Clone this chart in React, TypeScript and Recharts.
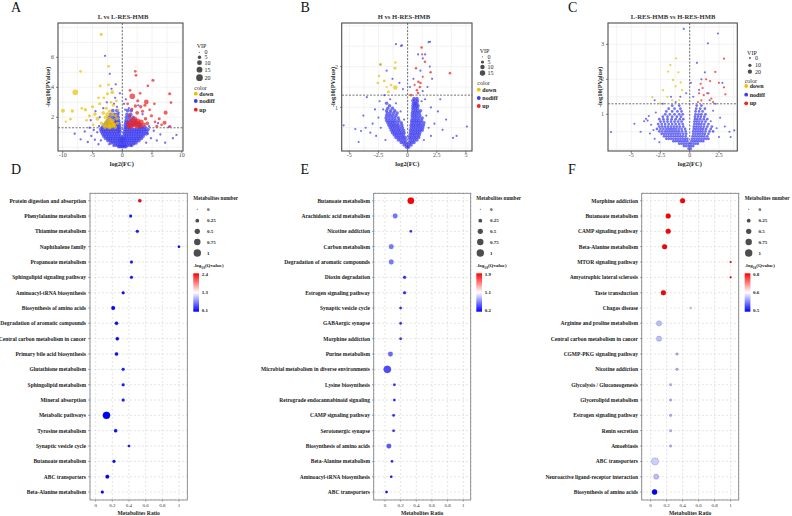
import React from 'react';
import { ScatterChart, Scatter, XAxis, YAxis, ZAxis, CartesianGrid, ReferenceLine } from 'recharts';

const FONT = '"Liberation Serif", "Times New Roman", serif';
const BLUE = '#3c3cf0';
const GOLD = '#efc000';
const RED = '#ee2222';
// VIP assumed for unlabelled nodiff metabolites: dense core vs. scattered tail
const CORE_VIP = 6;
const TAIL_VIP = 2;

// ---------- volcano A: L vs L-RES-HMB ----------
// dense nodiff core, one row per -log10(p) level
const coreA: [number, number[]][] = [
  [0.05, [-0.6, -0.3, 0, 0.3, 0.6]],
  [0.15, [-1.2, -0.8, -0.4, 0, 0.4, 0.8, 1.2, 1.6]],
  [0.3, [-1.9, -1.5, -1.1, -0.7, -0.35, 0, 0.35, 0.7, 1.1, 1.5, 1.9, 2.3]],
  [0.45, [-2.4, -2.0, -1.6, -1.2, -0.8, -0.45, -0.15, 0.15, 0.45, 0.8, 1.2, 1.6, 2.0, 2.4, 2.8]],
  [0.6, [-2.8, -2.4, -2.0, -1.6, -1.2, -0.8, -0.4, -0.15, 0.15, 0.4, 0.8, 1.2, 1.6, 2.0, 2.4, 2.8, 3.2]],
  [0.75, [-3.1, -2.7, -2.3, -1.9, -1.5, -1.1, -0.7, -0.3, 0.3, 0.7, 1.1, 1.5, 1.9, 2.3, 2.7, 3.1, 3.5]],
  [0.9, [-3.3, -2.9, -2.5, -2.1, -1.7, -1.3, -0.9, -0.5, 0.35, 0.75, 1.15, 1.55, 1.95, 2.35, 2.75, 3.15, 3.6, 4.0]],
  [1.05, [-3.5, -3.1, -2.7, -2.3, -1.9, -1.5, -1.1, -0.7, -0.4, 0.4, 0.8, 1.2, 1.6, 2.0, 2.4, 2.8, 3.2, 3.6, 4.1]],
  [1.2, [-3.6, -3.2, -2.8, -2.4, -2.0, -1.6, -1.2, -0.8, -0.45, 0.45, 0.85, 1.25, 1.65, 2.05, 2.45, 2.85, 3.25, 3.7, 4.3]],
  [1.35, [-3.3, -2.9, -2.5, -2.1, -1.7, -1.3, -0.9, -0.5, 0.5, 0.9, 1.3, 2.9, 3.3, 3.8]],
  [1.5, [-3.0, -2.5, -2.0, -1.6, -1.2, -0.8, -0.5, 0.5, 0.9, 1.3, 1.8, 2.4, 3.0]],
  [1.65, [-2.7, -2.2, -1.8, -1.4, -1.0, -0.6, 0.6, 1.0, 1.5, 2.1, 2.7]],
  [1.8, [-2.4, -1.9, -1.4, -1.0, -0.65, 0.65, 1.1, 1.6, 2.2]],
  [2.0, [-2.2, -1.6, -1.1, -0.7, 0.7, 1.2, 1.8]],
  [2.2, [-1.9, -1.3, -0.8, 0.8, 1.4]],
  [2.45, [-1.6, -0.9, 0.9, 1.5]],
];
const sparseA: [number, number][] = [
  [-7.0, 0.53], [-5.8, 0.35], [-5.2, 0.75], [-4.6, 0.5], [-4.2, 1.0], [-4.0, 0.2], [-3.9, 1.4], [-4.8, 1.15],
  [-6.3, 1.05], [-5.5, 1.3], [-3.6, 0.45], [4.0, 0.3], [4.3, 0.9], [4.8, 0.6], [5.3, 1.1], [5.8, 0.45],
  [6.4, 0.85], [7.2, 0.3], [9.1, 0.82], [4.5, 1.4], [3.9, 1.15], [-2.9, 6.1], [-2.1, 4.9], [-1.8, 3.9],
  [-1.2, 3.3], [-0.9, 2.7], [-2.6, 3.0], [-3.2, 2.6], [-1.4, 2.9], [0.6, 3.2], [1.1, 2.6], [0.3, 2.9],
  [-0.4, 3.6], [-1.1, 4.2], [-4.5, 2.4], [-3.8, 2.0], [2.7, 2.8], [3.4, 2.2], [-0.6, 2.3], [0.5, 2.5],
  [-5.3, 1.8], [6.0, 1.6], [7.8, 1.35], [-8.0, 0.9], [8.5, 0.6], [2.0, 0.2], [-2.2, 0.2], [1.5, 0.1], [-1.5, 0.1],
];
const downA: [number, number, number][] = [
  [-3.53, 7.53, 4], [-7.0, 5.07, 3], [-7.9, 3.67, 14], [-9.97, 2.44, 7], [-8.4, 2.42, 5], [-8.7, 1.87, 3],
  [-9.5, 1.7, 2], [-2.3, 5.4, 3], [-2.3, 4.17, 3], [-1.68, 3.67, 6], [-2.5, 3.57, 4], [-3.7, 4.09, 3],
  [-6.2, 2.5, 5], [-5.5, 2.1, 4], [-6.8, 2.6, 3], [-6.0, 1.8, 3], [-5.0, 2.7, 4], [-4.6, 2.2, 5],
  [-4.2, 1.9, 6], [-3.8, 2.9, 4], [-3.5, 1.6, 5], [-3.2, 2.3, 6], [-3.0, 1.5, 8], [-2.8, 2.0, 6],
  [-2.6, 1.7, 9], [-2.4, 1.45, 10], [-2.2, 1.9, 8], [-2.0, 1.6, 11], [-1.8, 1.4, 9], [-1.6, 1.75, 7],
  [-1.4, 1.5, 8], [-1.2, 1.35, 6], [-2.1, 2.4, 5], [-1.5, 2.8, 4], [-1.1, 2.1, 5], [-0.8, 1.6, 4],
  [-0.7, 2.5, 3], [-4.9, 1.5, 3], [-4.0, 3.3, 3], [-3.1, 3.3, 3], [-2.7, 2.6, 4], [-1.9, 3.0, 3],
  [-1.0, 3.1, 3], [-0.9, 1.9, 5], [-2.9, 1.35, 7], [-2.5, 2.2, 7], [-1.7, 2.2, 6], [-2.15, 1.35, 10],
  [-1.5, 1.5, 9], [-1.9, 1.75, 10],
];
const upA: [number, number, number][] = [
  [2.18, 5.07, 3], [2.3, 4.8, 3], [5.15, 4.47, 4], [4.3, 4.1, 3], [7.96, 3.57, 4], [1.68, 3.4, 14],
  [4.03, 3.02, 10], [2.6, 3.1, 4], [3.1, 2.7, 5], [3.8, 2.8, 4], [2.2, 2.75, 5], [1.6, 2.55, 4],
  [2.5, 2.3, 6], [3.4, 2.4, 4], [4.6, 2.5, 3], [5.4, 2.9, 3], [7.28, 2.31, 7], [7.1, 1.64, 7],
  [8.18, 2.98, 3], [6.2, 1.9, 4], [5.5, 1.7, 3], [4.9, 2.1, 4], [1.2, 2.1, 5], [1.0, 1.6, 8],
  [1.4, 1.45, 14], [1.9, 1.55, 15], [2.4, 1.5, 16], [2.9, 1.45, 15], [2.6, 1.75, 12], [3.2, 1.7, 10],
  [2.1, 1.9, 9], [1.6, 1.8, 10], [3.6, 1.5, 8], [4.2, 1.6, 6], [3.9, 1.9, 5], [1.1, 1.35, 7],
  [5.8, 1.4, 4], [6.6, 1.5, 3], [8.0, 1.4, 3], [0.9, 2.9, 3], [1.3, 3.8, 3], [3.0, 3.6, 3],
];

// ---------- volcano B: H vs H-RES-HMB ----------
const coreB: [number, number[]][] = [
  [0.02, [-0.08, 0.08]],
  [0.08, [-0.3, -0.1, 0.1, 0.3]],
  [0.14, [-0.55, -0.35, -0.15, 0.15, 0.35, 0.55]],
  [0.2, [-0.8, -0.6, -0.4, -0.2, 0.2, 0.4, 0.6, 0.8]],
  [0.26, [-1.0, -0.8, -0.6, -0.4, -0.2, 0.15, 0.35, 0.55, 0.75, 0.95]],
  [0.32, [-1.15, -0.95, -0.75, -0.55, -0.35, 0.2, 0.4, 0.6, 0.8, 1.0]],
  [0.38, [-1.3, -1.1, -0.9, -0.7, -0.5, -0.3, 0.25, 0.45, 0.65, 0.85, 1.05]],
  [0.44, [-1.4, -1.2, -1.0, -0.8, -0.6, -0.35, 0.25, 0.45, 0.65, 0.85, 1.05, 1.25]],
  [0.5, [-1.5, -1.3, -1.1, -0.9, -0.7, -0.45, 0.3, 0.5, 0.7, 0.9, 1.1, 1.3]],
  [0.56, [-1.6, -1.4, -1.2, -1.0, -0.8, -0.5, 0.3, 0.5, 0.7, 0.9, 1.1, 1.35]],
  [0.62, [-1.7, -1.5, -1.3, -1.1, -0.85, -0.55, 0.35, 0.55, 0.75, 0.95, 1.15, 1.4]],
  [0.68, [-1.8, -1.55, -1.3, -1.05, -0.75, 0.35, 0.55, 0.75, 0.95, 1.2]],
  [0.74, [-1.85, -1.6, -1.35, -1.1, -0.8, 0.4, 0.6, 0.8, 1.0, 1.25]],
  [0.8, [-1.8, -1.55, -1.3, -1.0, 0.4, 0.6, 0.8, 1.05]],
  [0.86, [-1.75, -1.5, -1.2, -0.9, 0.4, 0.6, 0.8, 1.0]],
  [0.92, [-1.8, -1.45, -1.1, 0.45, 0.65, 0.85, 1.1]],
  [0.98, [-1.7, -1.3, 0.45, 0.65, 0.85]],
  [1.04, [-1.55, 0.45, 0.6, 0.75, 0.9]],
  [1.1, [-1.8, 0.5, 0.65, 0.8]],
  [1.16, [0.45, 0.65, 0.85]],
  [1.22, [0.55, 0.8]],
];
const sparseB: [number, number][] = [
  [-5.49, 0.56], [-4.49, 0.47], [-4.0, 0.42], [-3.6, 0.5], [-3.2, 0.38], [-3.0, 0.6], [-2.7, 0.3], [-2.5, 0.75],
  [-2.3, 0.5], [-2.1, 0.95], [-2.4, 1.15], [-2.8, 0.95], [-3.5, 1.25], [-2.0, 1.3], [-1.5, 1.2], [-1.0, 1.1],
  [-0.6, 0.9], [-0.3, 0.7], [1.6, 0.8], [1.8, 0.5], [2.0, 1.0], [2.3, 0.6], [2.6, 0.9], [3.0, 0.45],
  [2.8, 1.2], [3.3, 0.7], [5.09, 0.53], [4.2, 0.3], [1.5, 1.2], [1.3, 1.4], [1.7, 1.5], [2.1, 1.7],
  [1.9, 2.0], [1.5, 2.3], [1.92, 2.61], [1.8, 2.6], [-0.48, 2.52], [-1.0, 2.55], [-0.57, 2.51], [-2.34, 2.05],
  [-1.8, 1.9], [-1.3, 1.7], [-0.7, 1.6], [-0.4, 1.45], [0.2, 1.5], [0.5, 1.7], [1.1, 1.9], [1.3, 2.2],
  [0.9, 2.3], [1.2, 1.15], [-4.2, 0.15], [-1.9, 0.2], [1.4, 0.2], [2.0, 0.3], [-3.8, 0.8], [3.9, 0.25],
];
const downB: [number, number, number][] = [
  [-2.3, 2.06, 3], [-2.0, 1.65, 4], [-2.45, 1.77, 3], [-1.08, 1.96, 4], [-1.05, 1.49, 10], [-1.65, 1.38, 4],
  [-1.42, 1.55, 3], [-1.05, 2.1, 3], [-2.55, 1.6, 3], [-1.8, 1.5, 2],
];
const upB: [number, number, number][] = [
  [1.2, 2.47, 3], [1.49, 2.12, 3], [1.97, 1.86, 3], [3.63, 1.84, 3], [0.72, 1.96, 3], [0.92, 1.63, 3],
  [1.1, 1.6, 3], [0.8, 1.42, 3], [1.05, 1.5, 3], [0.29, 1.3, 3], [0.9, 1.35, 3], [1.3, 1.75, 2],
  [0.6, 1.55, 2], [1.25, 2.3, 2],
];

// ---------- volcano C: L-RES-HMB vs H-RES-HMB ----------
const coreC: [number, number[]][] = [
  [0.02, [-0.1, 0.1]],
  [0.09, [-0.5, -0.3, -0.1, 0.1, 0.3]],
  [0.16, [-0.9, -0.7, -0.5, -0.3, -0.1, 0.1, 0.3, 0.5, 0.7]],
  [0.23, [-1.4, -1.2, -1.0, -0.8, -0.6, -0.4, -0.2, 0.15, 0.35, 0.55, 0.75, 0.95, 1.15]],
  [0.3, [-2.0, -1.8, -1.6, -1.4, -1.2, -1.0, -0.8, -0.6, -0.4, -0.2, 0.2, 0.4, 0.6, 0.8, 1.0, 1.2, 1.4, 1.6]],
  [0.37, [-2.2, -2.0, -1.8, -1.6, -1.4, -1.2, -1.0, -0.8, -0.6, -0.35, 0.25, 0.45, 0.65, 0.85, 1.05, 1.25, 1.5]],
  [0.44, [-2.4, -2.2, -2.0, -1.8, -1.6, -1.4, -1.2, -1.0, -0.8, -0.55, -0.3, 0.3, 0.5, 0.7, 0.9, 1.1, 1.3, 1.6]],
  [0.51, [-2.6, -2.35, -2.1, -1.9, -1.7, -1.5, -1.3, -1.1, -0.9, -0.65, -0.35, 0.3, 0.5, 0.7, 0.9, 1.1, 1.35, 1.7, 2.0]],
  [0.58, [-2.8, -2.5, -2.25, -2.0, -1.8, -1.6, -1.4, -1.2, -0.95, -0.7, -0.4, 0.35, 0.55, 0.75, 0.95, 1.15, 1.4, 1.8]],
  [0.65, [-2.6, -2.35, -2.1, -1.85, -1.6, -1.35, -1.1, -0.85, -0.55, 0.35, 0.55, 0.75, 0.95, 1.2, 1.5, 1.9]],
  [0.72, [-2.7, -2.4, -2.1, -1.8, -1.5, -1.2, -0.9, -0.6, 0.4, 0.6, 0.8, 1.0, 1.25, 1.6]],
  [0.79, [-2.5, -2.2, -1.9, -1.6, -1.3, -1.0, -0.7, 0.4, 0.6, 0.8, 1.05, 1.35]],
  [0.86, [-2.6, -2.25, -1.9, -1.55, -1.2, -0.85, -0.55, 0.45, 0.65, 0.9, 1.2, 1.5]],
  [0.93, [-2.3, -1.9, -1.5, -1.1, -0.75, 0.45, 0.7, 0.95, 1.25]],
  [1.0, [-2.1, -1.7, -1.3, -0.9, -0.6, 0.5, 0.75, 1.0, 1.35]],
  [1.08, [-2.0, -1.5, -1.05, -0.7, 0.5, 0.8, 1.1]],
  [1.16, [-1.8, -1.3, -0.8, 0.55, 0.9, 1.3]],
  [1.25, [-1.5, -0.9, 0.6, 1.0]],
];
const sparseC: [number, number][] = [
  [-3.74, 0.87], [-3.6, 0.82], [-3.9, 0.8], [-3.5, 0.95], [-3.3, 0.7], [-3.1, 0.55], [-3.4, 0.45], [-4.73, 0.73],
  [-6.73, 0.49], [-4.2, 0.5], [-2.9, 1.05], [-3.0, 0.3], [-2.6, 0.2], [3.81, 0.54], [3.4, 0.5], [3.0, 0.65],
  [2.6, 0.9], [2.3, 0.6], [2.5, 0.35], [2.0, 1.1], [1.8, 0.8], [2.2, 1.3], [1.7, 1.4], [1.5, 1.6],
  [2.42, 3.31], [-0.51, 3.44], [1.56, 3.03], [0.62, 2.47], [1.3, 2.2], [-0.3, 1.6], [-0.8, 1.5], [-1.2, 1.35],
  [-2.3, 1.3], [0.3, 1.5], [0.8, 1.7], [1.0, 2.0], [2.8, 1.9], [-1.6, 1.5], [-3.0, 1.4], [0.1, 1.9], [3.5, 0.35],
];
const downC: [number, number, number][] = [
  [-1.17, 2.6, 3], [-1.66, 2.41, 3], [-1.85, 2.22, 3], [-0.97, 2.2, 3], [-1.43, 1.98, 3], [-0.77, 1.91, 3],
  [-2.28, 1.69, 3], [-1.91, 1.5, 3], [-3.2, 1.49, 3], [-0.66, 1.69, 3], [-1.2, 1.8, 3], [-2.56, 1.31, 3],
  [-1.5, 1.4, 3], [-0.9, 1.4, 2],
];
const upC: [number, number, number][] = [
  [2.93, 2.59, 3], [2.19, 2.21, 3], [1.74, 1.95, 3], [0.94, 1.87, 3], [1.1, 1.75, 3], [0.8, 1.6, 3],
  [1.2, 1.55, 3], [1.6, 1.6, 3], [1.85, 1.45, 3], [2.0, 1.35, 3], [1.0, 1.4, 3], [0.7, 1.35, 3],
  [2.93, 1.77, 3], [3.05, 1.57, 3], [1.4, 2.0, 2], [2.5, 1.9, 2],
];

// ---------- KEGG bubble D ----------
const pathwaysD = [
  'Protein digestion and absorption', 'Phenylalanine metabolism', 'Thiamine metabolism', 'Naphthalene family',
  'Propanoate metabolism', 'Sphingolipid signaling pathway', 'Aminoacyl-tRNA biosynthesis', 'Biosynthesis of amino acids',
  'Degradation of aromatic compounds', 'Central carbon metabolism in cancer', 'Primary bile acid biosynthesis',
  'Glutathione metabolism', 'Sphingolipid metabolism', 'Mineral absorption', 'Metabolic pathways', 'Tyrosine metabolism',
  'Synaptic vesicle cycle', 'Butanoate metabolism', 'ABC transporters', 'Beta-Alanine metabolism',
];
const ratioD = [0.53, 0.42, 0.5, 1.0, 0.43, 0.43, 0.33, 0.21, 0.25, 0.26, 0.25, 0.33, 0.33, 0.33, 0.13, 0.24, 0.4, 0.22, 0.14, 0.08];
const numberD = [0.2, 0.15, 0.15, 0.1, 0.15, 0.15, 0.15, 0.25, 0.2, 0.2, 0.2, 0.15, 0.15, 0.15, 1, 0.2, 0.1, 0.15, 0.25, 0.15];
const qvalD = [2.4, 0.2, 0.2, 0.1, 0.2, 0.2, 0.15, 0.1, 0.15, 0.15, 0.15, 0.2, 0.2, 0.2, 0.1, 0.15, 0.2, 0.15, 0.1, 0.1];

// ---------- KEGG bubble E ----------
const pathwaysE = [
  'Butanoate metabolism', 'Arachidonic acid metabolism', 'Nicotine addiction', 'Carbon metabolism',
  'Degradation of aromatic compounds', 'Dioxin degradation', 'Estrogen signaling pathway', 'Synaptic vesicle cycle',
  'GABAergic synapse', 'Morphine addiction', 'Purine metabolism', 'Microbial metabolism in diverse environments',
  'Lysine biosynthesis', 'Retrograde endocannabinoid signaling', 'CAMP signaling pathway', 'Serotonergic synapse',
  'Biosynthesis of amino acids', 'Beta-Alanine metabolism', 'Aminoacyl-tRNA biosynthesis', 'ABC transporters',
];
const ratioE = [0.33, 0.13, 0.33, 0.08, 0.08, 0.25, 0.25, 0.2, 0.2, 0.2, 0.07, 0.03, 0.12, 0.12, 0.11, 0.11, 0.05, 0.09, 0.08, 0.02];
const numberE = [0.75, 0.4, 0.1, 0.4, 0.4, 0.15, 0.15, 0.1, 0.1, 0.1, 0.4, 1, 0.1, 0.1, 0.1, 0.1, 0.4, 0.1, 0.1, 0.1];
const qvalE = [1.9, 0.6, 0.35, 0.6, 0.6, 0.35, 0.35, 0.35, 0.35, 0.35, 0.55, 0.45, 0.35, 0.35, 0.35, 0.35, 0.5, 0.35, 0.3, 0.25];

// ---------- KEGG bubble F ----------
const pathwaysF = [
  'Morphine addiction', 'Butanoate metabolism', 'CAMP signaling pathway', 'Beta-Alanine metabolism',
  'MTOR signaling pathway', 'Amyotrophic lateral sclerosis', 'Taste transduction', 'Chagas disease',
  'Arginine and proline metabolism', 'Central carbon metabolism in cancer', 'CGMP-PKG signaling pathway',
  'Nicotine addiction', 'Glycolysis / Gluconeogenesis', 'Glycerolipid metabolism', 'Estrogen signaling pathway',
  'Renin secretion', 'Amoebiasis', 'ABC transporters', 'Neuroactive ligand-receptor interaction', 'Biosynthesis of amino acids',
];
const ratioF = [0.4, 0.22, 0.22, 0.175, 1.0, 1.0, 0.16, 0.5, 0.105, 0.105, 0.33, 0.33, 0.25, 0.25, 0.25, 0.25, 0.25, 0.055, 0.07, 0.05];
const numberF = [0.45, 0.45, 0.45, 0.45, 0.05, 0.05, 0.45, 0.05, 0.5, 0.5, 0.1, 0.1, 0.1, 0.1, 0.1, 0.1, 0.1, 1, 0.5, 0.5];
const qvalF = [0.8, 0.8, 0.8, 0.8, 0.8, 0.8, 0.8, 0.62, 0.61, 0.61, 0.6, 0.6, 0.6, 0.6, 0.6, 0.6, 0.6, 0.62, 0.61, 0.5];

// legend keys
const vipKeysA = [0, 5, 10, 15, 20];
const vipKeysB = [0, 5, 10, 15];
const vipKeysC = [0, 10, 20];
const groupKeys = ['down', 'nodiff', 'up'];
const groupColors = [GOLD, BLUE, RED];
const numberKeys = [0, 0.25, 0.5, 0.75, 1];
// colour bar labels, top to bottom
const qLabelsD = [2.4, 1.3, 0.1];
const qLabelsE = [1.9, 1.1, 0.2];
const qLabelsF = [0.8, 0.6, 0.5];

// ---------- helpers ----------
type Pt = { x: number; y: number; vip: number };
const toPts = (rows: [number, number, number][]): Pt[] => rows.map(([x, y, vip]) => ({ x, y, vip }));
const nodiffPts = (core: [number, number[]][], sparse: [number, number][]): Pt[] => [
  ...core.flatMap(([y, xs]) => xs.map((x) => ({ x, y, vip: CORE_VIP }))),
  ...sparse.map(([x, y]) => ({ x, y, vip: TAIL_VIP })),
];
const bubbleRows = (names: string[], ratio: number[], num: number[], q: number[]) =>
  names.map((name, i) => ({ i, name, ratio: ratio[i], n: num[i], q: q[i] }));

function qColor(v: number, lo: number, hi: number) {
  const mid = (lo + hi) / 2;
  const mix = (a: number[], b: number[], t: number) => a.map((c, k) => Math.round(c + (b[k] - c) * t));
  const c =
    v <= mid
      ? mix([0, 0, 255], [255, 255, 255], Math.max(0, (v - lo) / (mid - lo)))
      : mix([255, 255, 255], [255, 0, 0], Math.min(1, (v - mid) / (hi - mid)));
  return `rgb(${c.join(',')})`;
}

const fmtNum = (v: number) => String(Math.round(v * 100) / 100);

const volcanoDot = (p: any) => {
  const r = Math.sqrt((p.size ?? 4) / Math.PI);
  return <circle cx={p.cx} cy={p.cy} r={r} fill={p.fill} fillOpacity={0.72} />;
};

type Box = { x: number; y: number; w: number; h: number };

interface VolcanoProps {
  box: Box;
  xDomain: [number, number];
  yDomain: [number, number];
  xTicks: number[];
  yTicks: number[];
  xGrid: number[];
  yGrid: number[];
  nodiff: Pt[];
  down: Pt[];
  up: Pt[];
  vipMax: number;
  vipRange: [number, number];
}

function Volcano({ box, xDomain, yDomain, xTicks, yTicks, xGrid, yGrid, nodiff, down, up, vipMax, vipRange }: VolcanoProps) {
  const yW = 16;
  const xH = 12;
  const tick = { fontSize: 6, fill: '#4d4d4d', fontFamily: FONT };
  return (
    <div style={{ position: 'absolute', left: box.x - yW, top: box.y - 5 }}>
      <ScatterChart width={yW + box.w + 5} height={5 + box.h + xH} margin={{ top: 5, right: 5, left: 0, bottom: 0 }}>
        <CartesianGrid stroke="#ebebeb" strokeWidth={0.6} verticalValues={xGrid} horizontalValues={yGrid} />
        <XAxis type="number" dataKey="x" domain={xDomain} ticks={xTicks} allowDataOverflow interval={0}
          axisLine={false} tickSize={2} tickMargin={0} tickLine={{ stroke: '#333', strokeWidth: 0.6 }}
          tick={tick} height={xH} tickFormatter={fmtNum} />
        <YAxis type="number" dataKey="y" domain={yDomain} ticks={yTicks} allowDataOverflow interval={0}
          axisLine={false} tickSize={2} tickLine={{ stroke: '#333', strokeWidth: 0.6 }}
          tick={tick} width={yW} tickFormatter={fmtNum} />
        <ZAxis type="number" dataKey="vip" domain={[0, vipMax]} range={vipRange} />
        <Scatter data={nodiff} fill={BLUE} shape={volcanoDot} isAnimationActive={false} />
        <Scatter data={down} fill={GOLD} shape={volcanoDot} isAnimationActive={false} />
        <Scatter data={up} fill={RED} shape={volcanoDot} isAnimationActive={false} />
        <ReferenceLine x={0} stroke="#333" strokeDasharray="2 1.5" strokeWidth={0.7} />
        <ReferenceLine y={1.3} stroke="#333" strokeDasharray="2 1.5" strokeWidth={0.7} />
      </ScatterChart>
    </div>
  );
}

interface BubbleProps {
  box: Box;
  xDomain: [number, number];
  rows: { i: number; name: string; ratio: number; n: number; q: number }[];
  qScale: number[];
}

const RATIO_TICKS = [0, 0.2, 0.4, 0.6, 0.8, 1];
const NUMBER_RANGE: [number, number] = [1, 43];

function Bubble({ box, xDomain, rows, qScale }: BubbleProps) {
  const yW = 140;
  const xH = 14;
  const names = rows.map((r) => r.name);
  const lo = qScale[qScale.length - 1];
  const hi = qScale[0];
  const dot = (p: any) => {
    const r = Math.sqrt((p.size ?? 4) / Math.PI);
    return (
      <circle cx={p.cx} cy={p.cy} r={r} fill={qColor(p.payload.q, lo, hi)}
        stroke="rgba(70,70,90,0.55)" strokeWidth={0.35} />
    );
  };
  // single-line pathway names
  const catTick = (p: any) => (
    <text x={p.x} y={p.y} textAnchor="end" dominantBaseline="central" fontFamily={FONT} fontSize={5.5}
      fontWeight={700} fill="#1a1a1a">
      {names[p.payload.value] ?? ''}
    </text>
  );
  return (
    <div style={{ position: 'absolute', left: box.x - yW, top: box.y - 5 }}>
      <ScatterChart width={yW + box.w + 5} height={5 + box.h + xH} margin={{ top: 5, right: 5, left: 0, bottom: 0 }}>
        <CartesianGrid stroke="#d4d4d4" strokeWidth={0.6} strokeDasharray="2 2" />
        <XAxis type="number" dataKey="ratio" domain={xDomain} ticks={RATIO_TICKS} allowDataOverflow interval={0}
          axisLine={false} tickSize={2} tickLine={{ stroke: '#555', strokeWidth: 0.5 }}
          tick={{ fontSize: 5, fill: '#333', fontFamily: FONT }} height={xH}
          tickFormatter={(v: number) => String(Math.round(v * 10) / 10)} />
        <YAxis type="number" dataKey="i" domain={[-0.5, 19.5]} reversed allowDataOverflow interval={0}
          ticks={rows.map((r) => r.i)} axisLine={false} tickSize={2} tickLine={{ stroke: '#555', strokeWidth: 0.5 }}
          tick={catTick} width={yW} />
        <ZAxis type="number" dataKey="n" domain={[0, 1]} range={NUMBER_RANGE} />
        <Scatter data={rows} shape={dot} isAnimationActive={false} />
      </ScatterChart>
    </div>
  );
}

const areaToR = (area: number) => Math.sqrt(area / Math.PI);

function VolcanoLegend({ x, vipKeys, vipMax, vipRange, vipTitleY, vipRowsY, colorTitleY, colorRowsY }: {
  x: number; vipKeys: number[]; vipMax: number; vipRange: [number, number];
  vipTitleY: number; vipRowsY: number[]; colorTitleY: number; colorRowsY: number[];
}) {
  const t = { fontFamily: FONT, fontSize: 6, fill: '#222', dominantBaseline: 'central' as const };
  return (
    <g>
      <text x={x + 2.4} y={vipTitleY} {...t}>VIP</text>
      {vipKeys.map((v, k) => (
        <g key={v}>
          <circle cx={x + 5.2} cy={vipRowsY[k]} r={areaToR(vipRange[0] + ((vipRange[1] - vipRange[0]) * v) / vipMax)} fill="#4d4d4d" />
          <text x={x + 10.2} y={vipRowsY[k]} {...t}>{v}</text>
        </g>
      ))}
      <text x={x} y={colorTitleY} {...t}>color</text>
      {groupKeys.map((g, k) => (
        <g key={g}>
          <circle cx={x + 1.5} cy={colorRowsY[k]} r={1.9} fill={groupColors[k]} />
          <text x={x + 5} y={colorRowsY[k]} {...t} fontWeight={700}>{g}</text>
        </g>
      ))}
    </g>
  );
}

function BubbleLegend({ x, labels, id }: { x: number; labels: number[]; id: string }) {
  const t = { fontFamily: FONT, fontSize: 5, fill: '#222', dominantBaseline: 'central' as const, fontWeight: 700 };
  const rowsY = [209.3, 220.7, 231.3, 242, 253];
  const labelY = [274.5, 292.3, 310.5];
  return (
    <g>
      <defs>
        <linearGradient id={id} x1="0" y1="0" x2="0" y2="1">
          <stop offset="0" stopColor="#ff0000" />
          <stop offset="0.5" stopColor="#ffffff" />
          <stop offset="1" stopColor="#0000ff" />
        </linearGradient>
      </defs>
      <text x={x} y={198.3} {...t} fontSize={5.2}>Metabolites number</text>
      {numberKeys.map((v, k) => (
        <g key={v}>
          <circle cx={x + 4} cy={rowsY[k]} r={areaToR(NUMBER_RANGE[0] + (NUMBER_RANGE[1] - NUMBER_RANGE[0]) * v)} fill="#4d4d4d" />
          <text x={x + 13.8} y={rowsY[k]} {...t}>{v}</text>
        </g>
      ))}
      <text x={x} y={265.7} fontFamily={FONT} fontSize={5} fill="#222" fontWeight={700}>
        <tspan dy={1.7}>-log</tspan>
        <tspan fontSize={3.6} dy={1.3}>10</tspan>
        <tspan dy={-1.3}>(Qvalue)</tspan>
      </text>
      <rect x={x} y={273.3} width={5.7} height={38.4} fill={`url(#${id})`} />
      {labels.map((v, k) => (
        <text key={k} x={x + 8.4} y={labelY[k]} {...t}>{v}</text>
      ))}
    </g>
  );
}

const boxA: Box = { x: 58, y: 23, w: 125, h: 128 };
const boxB: Box = { x: 341.7, y: 23, w: 130.3, h: 128 };
const boxC: Box = { x: 608, y: 23, w: 129.3, h: 128 };
const boxD: Box = { x: 90, y: 193.3, w: 97.3, h: 306.7 };
const boxE: Box = { x: 373.7, y: 193.3, w: 97, h: 306.7 };
const boxF: Box = { x: 641.7, y: 193.3, w: 97, h: 306.7 };

const VIP_RANGE_A: [number, number] = [0.8, 35];
const VIP_RANGE_B: [number, number] = [0.8, 23];
const VIP_RANGE_C: [number, number] = [2.5, 14];

export default function App() {
  const title = { fontFamily: FONT, fontSize: 6.6, fontWeight: 700, fill: '#333', textAnchor: 'middle' as const };
  const axisTitle = { fontFamily: FONT, fontSize: 6.4, fontWeight: 700, fill: '#222', textAnchor: 'middle' as const };
  const letter = { fontFamily: FONT, fontSize: 14, fill: '#111' };
  const boxes = [boxA, boxB, boxC];
  const bBoxes = [boxD, boxE, boxF];
  return (
    <div style={{ position: 'absolute', left: 0, top: 0, width: 792, height: 516, background: '#fff', overflow: 'hidden' }}>
      <Volcano box={boxA} xDomain={[-10.8, 10.2]} yDomain={[-0.25, 8.29]} xTicks={[-10, -5, 0, 5, 10]} yTicks={[2, 4, 6]}
        xGrid={[-10, -7.5, -5, -2.5, 0, 2.5, 5, 7.5, 10]} yGrid={[0, 1, 2, 3, 4, 5, 6, 7, 8]}
        nodiff={nodiffPts(coreA, sparseA)} down={toPts(downA)} up={toPts(upA)} vipMax={20} vipRange={VIP_RANGE_A} />
      <Volcano box={boxB} xDomain={[-5.63, 5.55]} yDomain={[-0.07, 3.07]} xTicks={[-5, -2.5, 0, 2.5, 5]} yTicks={[1, 2]}
        xGrid={[-5, -3.75, -2.5, -1.25, 0, 1.25, 2.5, 3.75, 5]} yGrid={[0, 0.5, 1, 1.5, 2, 2.5, 3]}
        nodiff={nodiffPts(coreB, sparseB)} down={toPts(downB)} up={toPts(upB)} vipMax={15} vipRange={VIP_RANGE_B} />
      <Volcano box={boxC} xDomain={[-6.99, 4.07]} yDomain={[-0.05, 3.61]} xTicks={[-5, -2.5, 0, 2.5]} yTicks={[1, 2, 3]}
        xGrid={[-6.25, -5, -3.75, -2.5, -1.25, 0, 1.25, 2.5, 3.75]} yGrid={[0, 0.5, 1, 1.5, 2, 2.5, 3, 3.5]}
        nodiff={nodiffPts(coreC, sparseC)} down={toPts(downC)} up={toPts(upC)} vipMax={20} vipRange={VIP_RANGE_C} />

      <Bubble box={boxD} xDomain={[-0.068, 1.1]} rows={bubbleRows(pathwaysD, ratioD, numberD, qvalD)} qScale={qLabelsD} />
      <Bubble box={boxE} xDomain={[-0.14, 1.098]} rows={bubbleRows(pathwaysE, ratioE, numberE, qvalE)} qScale={qLabelsE} />
      <Bubble box={boxF} xDomain={[-0.1075, 1.105]} rows={bubbleRows(pathwaysF, ratioF, numberF, qvalF)} qScale={qLabelsF} />

      <svg width={792} height={516} style={{ position: 'absolute', left: 0, top: 0, pointerEvents: 'none' }}>
        {boxes.map((b, k) => (
          <rect key={k} x={b.x} y={b.y} width={b.w} height={b.h} fill="none" stroke="#4d4d4d" strokeWidth={1.1} />
        ))}
        {bBoxes.map((b, k) => (
          <rect key={k} x={b.x} y={b.y} width={b.w} height={b.h} fill="none" stroke="#7a7a7a" strokeWidth={0.8} />
        ))}

        <text x={11} y={12} {...letter}>A</text>
        <text x={300.5} y={12} {...letter}>B</text>
        <text x={568} y={12} {...letter}>C</text>
        <text x={11} y={174} {...letter}>D</text>
        <text x={300.5} y={174} {...letter}>E</text>
        <text x={568} y={174} {...letter}>F</text>

        <text x={123} y={19} {...title}>L vs L-RES-HMB</text>
        <text x={404} y={19} {...title}>H vs H-RES-HMB</text>
        <text x={673} y={19} {...title}>L-RES-HMB vs H-RES-HMB</text>

        <text x={121.7} y={165.5} {...axisTitle}>log2(FC)</text>
        <text x={407.3} y={165.5} {...axisTitle}>log2(FC)</text>
        <text x={689.7} y={165.5} {...axisTitle}>log2(FC)</text>
        <text transform="translate(50,87) rotate(-90)" {...axisTitle}>-log10(PValue)</text>
        <text transform="translate(334.5,87) rotate(-90)" {...axisTitle}>-log10(PValue)</text>
        <text transform="translate(601.5,87) rotate(-90)" {...axisTitle}>-log10(PValue)</text>

        <VolcanoLegend x={194.3} vipKeys={vipKeysA} vipMax={20} vipRange={VIP_RANGE_A} vipTitleY={46}
          vipRowsY={[52.3, 57.3, 62.7, 69.7, 77.7]} colorTitleY={87.7} colorRowsY={[93.7, 101, 109.7]} />
        <VolcanoLegend x={477.3} vipKeys={vipKeysB} vipMax={15} vipRange={VIP_RANGE_B} vipTitleY={50.7}
          vipRowsY={[56.7, 62, 67, 73]} colorTitleY={83.3} colorRowsY={[89.7, 98, 106]} />
        <VolcanoLegend x={744.7} vipKeys={vipKeysC} vipMax={20} vipRange={VIP_RANGE_C} vipTitleY={52.7}
          vipRowsY={[58, 65.3, 71.7]} colorTitleY={80.7} colorRowsY={[86, 94.7, 103.3]} />

        <text x={138.7} y={515} {...axisTitle} fontSize={5.6}>Metabolites Ratio</text>
        <text x={422.2} y={515} {...axisTitle} fontSize={5.6}>Metabolites Ratio</text>
        <text x={690.2} y={515} {...axisTitle} fontSize={5.6}>Metabolites Ratio</text>

        <BubbleLegend x={193.3} labels={qLabelsD} id="qD" />
        <BubbleLegend x={476.3} labels={qLabelsE} id="qE" />
        <BubbleLegend x={744.7} labels={qLabelsF} id="qF" />
      </svg>
    </div>
  );
}
